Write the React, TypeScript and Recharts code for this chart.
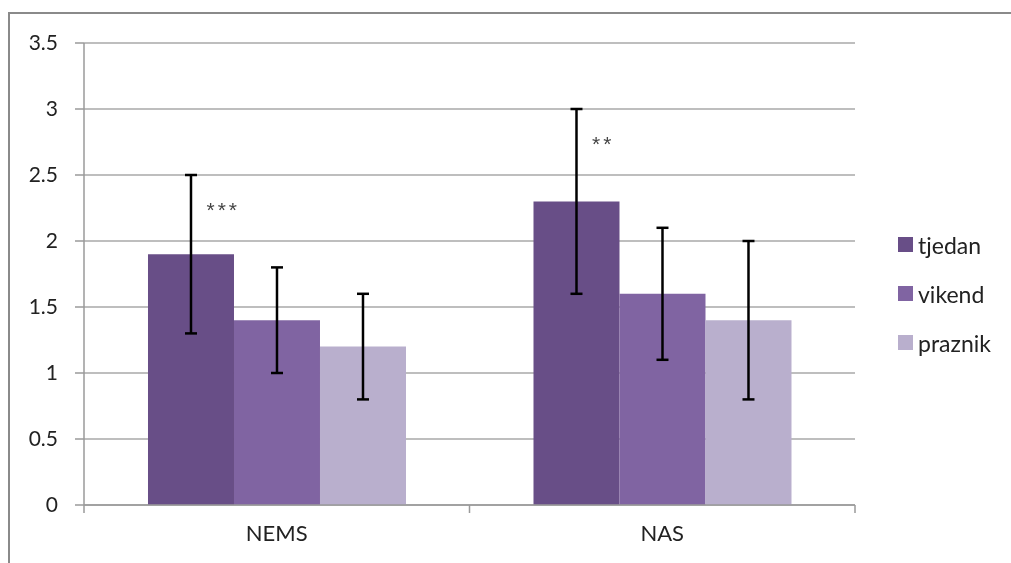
import React from 'react';
import { BarChart, Bar, XAxis, YAxis, CartesianGrid, ErrorBar, LabelList } from 'recharts';

const categories = ['NEMS', 'NAS'];
const tjedan = [1.9, 2.3];
const vikend = [1.4, 1.6];
const praznik = [1.2, 1.4];
const tjedanErr = [0.6, 0.7];
const vikendErr = [0.4, 0.5];
const praznikErr = [0.4, 0.6];
const significance = ['***', '**'];
const yTicks = [0, 0.5, 1, 1.5, 2, 2.5, 3, 3.5];
const seriesNames = ['tjedan', 'vikend', 'praznik'];
const colors = ['#684E87', '#8064A2', '#B9AFCD'];

const data = categories.map((c, i) => ({
  category: c,
  tjedan: tjedan[i],
  vikend: vikend[i],
  praznik: praznik[i],
  tjedanErr: tjedanErr[i],
  vikendErr: vikendErr[i],
  praznikErr: praznikErr[i],
  sig: significance[i],
}));

const W = 990;
const H = 547;
const MARGIN = { top: 35, right: 143, bottom: 10, left: 0 };
const Y_AXIS_W = 76;
const PLOT_W = W - MARGIN.left - MARGIN.right - Y_AXIS_W;
const HALF_BAND = PLOT_W / categories.length / 2;
const FONT = 'Lato, "Noto Sans", sans-serif';
const AXIS_COLOR = '#9a9a9a';
const FRAME = '#8a8a8a';

const XTick = (props: any) => {
  const { x, y, payload, index } = props;
  const lines = [x - HALF_BAND];
  if (index === categories.length - 1) lines.push(x + HALF_BAND);
  return (
    <g>
      {lines.map((lx, k) => (
        <line key={k} x1={lx} x2={lx} y1={y} y2={y + 8} stroke={AXIS_COLOR} strokeWidth={1.5} />
      ))}
      <text x={x} y={y + 36} textAnchor="middle" fontSize={22} fontFamily={FONT} fill="#222">
        {payload.value}
      </text>
    </g>
  );
};

const SigLabel = (props: any) => {
  const { x, y, width, height, value, index } = props;
  if (!value) return null;
  const ppu = height / tjedan[index];
  const errTop = y - tjedanErr[index] * ppu;
  return (
    <text
      x={x + width * 0.68}
      y={errTop + 34}
      textAnchor="start"
      dominantBaseline="central"
      fontSize={21}
      letterSpacing={3}
      fontFamily='"Liberation Sans", sans-serif'
      fill="#444"
    >
      {value}
    </text>
  );
};

export default function App() {
  return (
    <div style={{ position: 'relative', width: W, height: H }}>
      <style>{'html, body { overflow: hidden; }'}</style>
      <div style={{ position: 'fixed', left: 8, top: 12, width: 1003, height: 2, background: FRAME }} />
      <div style={{ position: 'fixed', left: 8, top: 12, width: 2, height: 551, background: FRAME }} />
      <div style={{ position: 'absolute', left: 0, top: 0 }}>
        <BarChart
          width={W}
          height={H}
          data={data}
          margin={MARGIN}
          barCategoryGap="16.6%"
          barGap={0}
        >
          <CartesianGrid vertical={false} stroke="#a8a8a8" strokeWidth={1.5} />
          <XAxis
            dataKey="category"
            axisLine={{ stroke: AXIS_COLOR, strokeWidth: 1.5 }}
            tickLine={false}
            tickSize={0}
            tickMargin={0}
            height={40}
            tick={<XTick />}
            interval={0}
          />
          <YAxis
            width={Y_AXIS_W}
            domain={[0, 3.5]}
            ticks={yTicks}
            axisLine={{ stroke: AXIS_COLOR, strokeWidth: 1.5 }}
            tickLine={{ stroke: AXIS_COLOR, strokeWidth: 1.5 }}
            tickSize={9}
            tickMargin={17}
            tick={{ fontSize: 21, fontFamily: FONT, fill: '#222' }}
          />
          <Bar dataKey="tjedan" name={seriesNames[0]} fill={colors[0]} isAnimationActive={false}>
            <ErrorBar dataKey="tjedanErr" width={6} strokeWidth={2.5} stroke="#000" direction="y" />
            <LabelList dataKey="sig" content={<SigLabel />} />
          </Bar>
          <Bar dataKey="vikend" name={seriesNames[1]} fill={colors[1]} isAnimationActive={false}>
            <ErrorBar dataKey="vikendErr" width={6} strokeWidth={2.5} stroke="#000" direction="y" />
          </Bar>
          <Bar dataKey="praznik" name={seriesNames[2]} fill={colors[2]} isAnimationActive={false}>
            <ErrorBar dataKey="praznikErr" width={6} strokeWidth={2.5} stroke="#000" direction="y" />
          </Bar>
        </BarChart>
      </div>
      <div style={{ position: 'absolute', left: 890, top: 212, fontFamily: FONT, fontSize: 23, color: '#222' }}>
        {seriesNames.map((n, i) => (
          <div key={n} style={{ display: 'flex', alignItems: 'center', height: 49 }}>
            <div style={{ width: 15, height: 15, background: colors[i], marginRight: 5 }} />
            <span>{n}</span>
          </div>
        ))}
      </div>
    </div>
  );
}
